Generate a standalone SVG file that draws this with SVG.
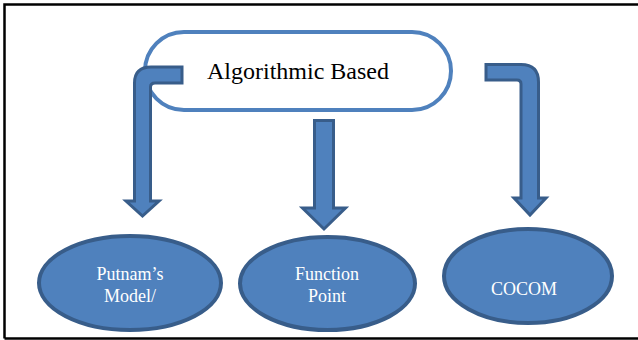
<svg xmlns="http://www.w3.org/2000/svg" width="638" height="340" viewBox="0 0 638 340">
<style>
.frame{fill:none;stroke:#000;stroke-width:2.5}
.pill{fill:#fff;stroke:#4F81BD;stroke-width:4}
.arrow{fill:#4F81BD;stroke:#385D8A;stroke-width:3;stroke-linejoin:miter}
.ell{fill:#4F81BD;stroke:#385D8A;stroke-width:4}
.t{font-family:"Liberation Serif","Times New Roman",serif;text-anchor:middle}
.tw{fill:#fff;font-size:18px}
</style>
<path class="frame" d="M4.5,338.5 L4.5,4.5 L640,4.5 M4.5,338.5 L640,338.5"/>
<g id="algorithmic-based">
<rect class="pill" x="145" y="32" width="306" height="78" rx="39" ry="39"/>
<text class="t" x="298" y="79" font-size="24" fill="#000">Algorithmic Based</text>
</g>
<g id="connectors">
<path class="arrow" d="M182,67 L151,67 Q134.5,67 134.5,83 L134.5,201 L126,201 L142.5,216 L159,201 L150.5,201 L150.5,87 Q150.5,83 155,83 L182,83 Z"/>
<path class="arrow" d="M314.5,120.5 L333.5,120.5 L333.5,208 L345.5,208 L324,229 L302.5,208 L314.5,208 Z"/>
<path class="arrow" d="M486,64.5 L521,64.5 Q538.5,64.5 538.5,82 L538.5,198 L546,198 L530,215 L514,198 L521,198 L521,84 Q521,80 517,80 L486,80 Z"/>
</g>
<g id="putnam">
<ellipse class="ell" cx="130" cy="283" rx="91" ry="47"/>
<text class="t tw" x="130" y="280">Putnam’s</text>
<text class="t tw" x="130" y="302">Model/</text>
</g>
<g id="function-point">
<ellipse class="ell" cx="327.5" cy="283.5" rx="87.5" ry="46.5"/>
<text class="t tw" x="327" y="280">Function</text>
<text class="t tw" x="327" y="302">Point</text>
</g>
<g id="cocom">
<ellipse class="ell" cx="528" cy="276" rx="84" ry="47"/>
<text class="t tw" x="524" y="295">COCOM</text>
</g>
</svg>
